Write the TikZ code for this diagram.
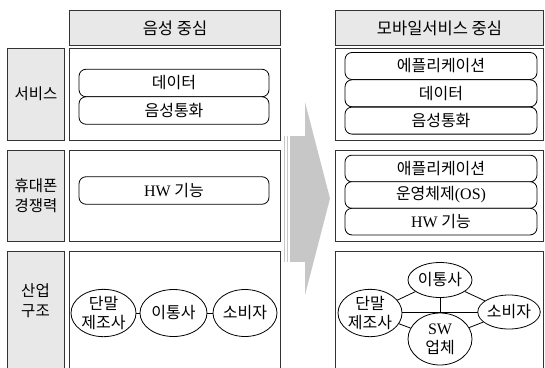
\documentclass[tikz,border=0pt]{standalone}
\usepackage{fontspec}
\setmainfont{Liberation Serif}
\newfontfamily\kr{Noto Sans CJK KR}
\usetikzlibrary{shapes.geometric}
\begin{document}
\begin{tikzpicture}[x=1pt,y=-1pt,
  frame/.style={draw=black!80, line width=1pt, anchor=north west, inner sep=0pt},
  hdr/.style={frame, fill=black!9, minimum height=35pt, font=\kr\fontsize{16.5}{19}\selectfont},
  lbl/.style={frame, fill=black!9, minimum width=57pt, align=center, font=\kr\fontsize{15.5}{20}\selectfont},
  cbox/.style={frame, fill=white},
  pill/.style={draw=black, line width=0.8pt, rounded corners=7pt, fill=white, inner sep=0pt, font=\kr\fontsize{16}{18}\selectfont},
  ell/.style={ellipse, draw=black, line width=0.8pt, fill=white, inner sep=0pt, align=center, font=\kr\fontsize{16}{19}\selectfont},
  link/.style={draw=black, line width=0.8pt},
  arrowgray/.style={fill=black!22}
]
\useasboundingbox (0,0) rectangle (545,367);
\clip (0,0) rectangle (545,367);

% headers
\node[hdr, minimum width=211pt] (h1) at (69,10) {음성 중심};
\node[hdr, minimum width=208pt] (h2) at (335,10) {모바일서비스 중심};

% row labels
\node[lbl, minimum height=92pt] (l1) at (7,47.5) {서비스};
\node[lbl, minimum height=91pt] (l2) at (7,149.5) {휴대폰\\경쟁력};
\node[lbl, minimum height=130pt] (l3) at (7,251) {};
\node[align=center, font=\kr\fontsize{15.5}{20}\selectfont] (l3t) at (35.5,301) {산업\\구조};

% content boxes
\node[cbox, minimum width=211pt, minimum height=92pt] (c11) at (69,47.5) {};
\node[cbox, minimum width=208pt, minimum height=92pt] (c12) at (335,47.5) {};
\node[cbox, minimum width=211pt, minimum height=91pt] (c21) at (69,149.5) {};
\node[cbox, minimum width=208pt, minimum height=91pt] (c22) at (335,149.5) {};
\node[cbox, minimum width=211pt, minimum height=130pt] (c31) at (69,251) {};
\node[cbox, minimum width=208pt, minimum height=130pt] (c32) at (335,251) {};

% arrow
\fill[arrowgray] (291,136) rectangle (305,262);
\fill[arrowgray] (305,102) -- (330,198.5) -- (305,295) -- cycle;
\draw[black!22, line width=1pt] (284.5,136) -- (284.5,262);
\draw[black!22, line width=1pt] (287.3,136) -- (287.3,262);
\draw[black!22, line width=1pt] (290,136) -- (290,262);

% row 1 pills
\node[pill, minimum width=190pt, minimum height=27.5pt] (p11a) at (174,83) {데이터};
\node[pill, minimum width=190pt, minimum height=27.5pt] (p11b) at (174,110.5) {음성통화};
\node[pill, minimum width=192pt, minimum height=27pt] (p12a) at (441,66) {에플리케이션};
\node[pill, minimum width=192pt, minimum height=27pt] (p12b) at (441,93.3) {데이터};
\node[pill, minimum width=192pt, minimum height=27pt] (p12c) at (441,120.6) {음성통화};

% row 2 pills
\node[pill, minimum width=190pt, minimum height=27.5pt] (p21) at (174,190.5) {{\rmfamily HW} 기능};
\node[pill, minimum width=192pt, minimum height=26.7pt] (p22a) at (441,168.5) {애플리케이션};
\node[pill, minimum width=192pt, minimum height=26.7pt] (p22b) at (441,195) {운영체제{\rmfamily(OS)}};
\node[pill, minimum width=192pt, minimum height=26.7pt] (p22c) at (441,221.6) {{\rmfamily HW} 기능};

% row 3 left
\node[ell, minimum width=65pt, minimum height=47pt] (d1) at (103.5,313) {단말\\제조사};
\node[ell, minimum width=67pt, minimum height=47pt] (t1) at (173.5,313) {이통사};
\node[ell, minimum width=64pt, minimum height=47pt] (s1) at (245,313) {소비자};
\draw[link] (d1) -- (t1);
\draw[link] (t1) -- (s1);

% row 3 right
\coordinate (hl) at (398,312);
\coordinate (hr) at (481,312);
\draw[link] (hl) -- (hr);
\node[ell, minimum width=64pt, minimum height=35pt] (t2) at (440,280) {이통사};
\node[ell, minimum width=64pt, minimum height=47pt] (d2) at (370,313) {단말\\제조사};
\node[ell, minimum width=58pt, minimum height=34pt] (s2) at (509,312) {소비자};
\node[ell, minimum width=64pt, minimum height=52pt] (w2) at (440,339) {{\rmfamily SW}\\업체};
\draw[link] (d2) -- (t2);
\draw[link] (t2) -- (s2);
\draw[link] (d2) -- (w2);
\draw[link] (w2) -- (s2);
\draw[link] (t2) -- (w2);
\end{tikzpicture}
\end{document}
